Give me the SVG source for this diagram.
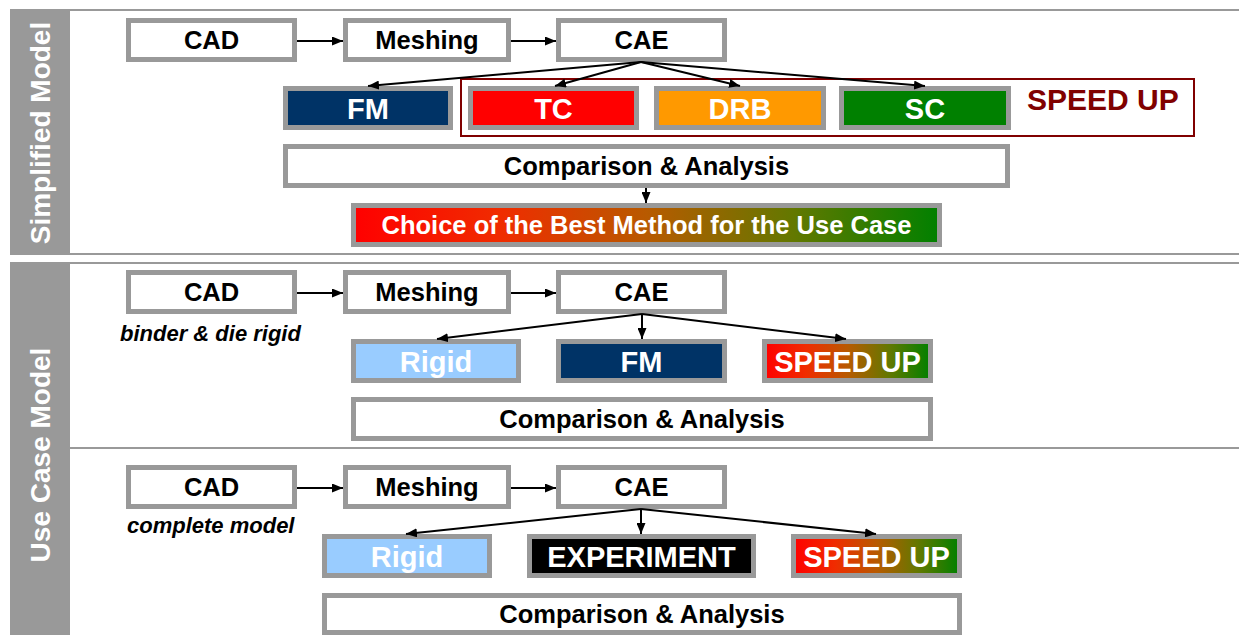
<svg xmlns="http://www.w3.org/2000/svg" width="1239" height="635" viewBox="0 0 1239 635">
<style>
text{font-family:"Liberation Sans",Arial,sans-serif;font-weight:bold}
.box{stroke:#999999;stroke-width:5}
.w{fill:#ffffff}
.lbl{font-size:25.5px;fill:#000;text-anchor:middle}
.clbl{font-size:29px;fill:#fff;text-anchor:middle}
.side{font-size:28px;fill:#fff;text-anchor:middle}
.note{font-size:22px;font-style:italic;fill:#000}
.sep{stroke:#999999;stroke-width:2;fill:none}
.con{stroke:#000;stroke-width:2;fill:none;marker-end:url(#ah)}
</style>
<defs>
<marker id="ah" markerUnits="userSpaceOnUse" markerWidth="11" markerHeight="9" refX="11" refY="4.5" orient="auto">
<path d="M0,0 L11,4.5 L0,9 z" fill="#000"/>
</marker>
<linearGradient id="grad" x1="0" y1="0" x2="1" y2="0">
<stop offset="0" stop-color="#ff0000"/>
<stop offset="0.25" stop-color="#f02c00"/>
<stop offset="0.5" stop-color="#b85a00"/>
<stop offset="0.75" stop-color="#637800"/>
<stop offset="1" stop-color="#008000"/>
</linearGradient>
</defs>
<rect width="1239" height="635" fill="#ffffff"/>
<g id="frame">
<line class="sep" x1="10" y1="10" x2="1239" y2="10"/>
<line class="sep" x1="10" y1="254" x2="1239" y2="254"/>
<line class="sep" x1="10" y1="263" x2="1239" y2="263"/>
<line class="sep" x1="70" y1="448" x2="1239" y2="448"/>
</g>
<g id="side1"><rect x="10" y="11" width="60" height="242" fill="#999999"/>
<text class="side" transform="translate(50,133) rotate(-90)">Simplified Model</text></g>
<g id="side2"><rect x="10" y="264" width="60" height="371" fill="#999999"/>
<text class="side" transform="translate(50,455) rotate(-90)">Use Case Model</text></g>

<g id="s1-cad"><rect class="box w" x="128.5" y="20.5" width="166" height="39"/><text class="lbl" x="211.5" y="49">CAD</text></g>
<g id="s1-mesh"><rect class="box w" x="345.5" y="20.5" width="163" height="39"/><text class="lbl" x="427" y="49">Meshing</text></g>
<g id="s1-cae"><rect class="box w" x="558.5" y="20.5" width="166" height="39"/><text class="lbl" x="641.5" y="49">CAE</text></g>
<g id="s1-speedup-frame"><rect x="461" y="79" width="733" height="57" fill="none" stroke="#800000" stroke-width="2"/><text x="1027" y="110" font-size="30" fill="#800000">SPEED UP</text></g>
<g id="s1-fm"><rect class="box" fill="#003366" x="285.5" y="88.5" width="165" height="39"/><text class="clbl" x="368" y="118.5">FM</text></g>
<g id="s1-tc"><rect class="box" fill="#ff0000" x="470.5" y="88.5" width="166" height="39"/><text class="clbl" x="553.5" y="118.5">TC</text></g>
<g id="s1-drb"><rect class="box" fill="#ff9900" x="656.5" y="88.5" width="167" height="39"/><text class="clbl" x="740" y="118.5">DRB</text></g>
<g id="s1-sc"><rect class="box" fill="#008000" x="841.5" y="88.5" width="167" height="39"/><text class="clbl" x="925" y="118.5">SC</text></g>
<g id="s1-comp"><rect class="box w" x="285.5" y="146.5" width="722" height="39"/><text class="lbl" x="646.5" y="175">Comparison &amp; Analysis</text></g>
<g id="s1-choice"><rect class="box" fill="url(#grad)" x="353.5" y="205.5" width="586" height="39"/><text class="lbl" style="fill:#fff" x="646.5" y="234">Choice of the Best Method for the Use Case</text></g>

<g id="s2-cad"><rect class="box w" x="128.5" y="272.5" width="166" height="39"/><text class="lbl" x="211.5" y="301">CAD</text></g>
<g id="s2-note"><text class="note" x="120" y="341">binder &amp; die rigid</text></g>
<g id="s2-mesh"><rect class="box w" x="345.5" y="272.5" width="163" height="39"/><text class="lbl" x="427" y="301">Meshing</text></g>
<g id="s2-cae"><rect class="box w" x="558.5" y="272.5" width="166" height="39"/><text class="lbl" x="641.5" y="301">CAE</text></g>
<g id="s2-rigid"><rect class="box" fill="#99ccff" x="353.5" y="341.5" width="165" height="39"/><text class="clbl" x="436" y="371.5">Rigid</text></g>
<g id="s2-fm"><rect class="box" fill="#003366" x="558.5" y="341.5" width="166" height="39"/><text class="clbl" x="641.5" y="371.5">FM</text></g>
<g id="s2-speedup"><rect class="box" fill="url(#grad)" x="764.5" y="341.5" width="166" height="39"/><text class="clbl" x="847.5" y="371.5">SPEED UP</text></g>
<g id="s2-comp"><rect class="box w" x="353.5" y="399.5" width="577" height="39"/><text class="lbl" x="642" y="428">Comparison &amp; Analysis</text></g>

<g id="s3-cad"><rect class="box w" x="128.5" y="467.5" width="166" height="39"/><text class="lbl" x="211.5" y="496">CAD</text></g>
<g id="s3-note"><text class="note" x="127" y="533">complete model</text></g>
<g id="s3-mesh"><rect class="box w" x="345.5" y="467.5" width="163" height="39"/><text class="lbl" x="427" y="496">Meshing</text></g>
<g id="s3-cae"><rect class="box w" x="558.5" y="467.5" width="166" height="39"/><text class="lbl" x="641.5" y="496">CAE</text></g>
<g id="s3-rigid"><rect class="box" fill="#99ccff" x="324.5" y="536.5" width="165" height="39"/><text class="clbl" x="407" y="566.5">Rigid</text></g>
<g id="s3-exp"><rect class="box" fill="#000000" x="529.5" y="536.5" width="224" height="39"/><text class="clbl" x="641.5" y="566.5">EXPERIMENT</text></g>
<g id="s3-speedup"><rect class="box" fill="url(#grad)" x="793.5" y="536.5" width="166" height="39"/><text class="clbl" x="876.5" y="566.5">SPEED UP</text></g>
<g id="s3-comp"><rect class="box w" x="324.5" y="595.5" width="635" height="37"/><text class="lbl" x="642" y="623">Comparison &amp; Analysis</text></g>

<g id="connectors">
<line class="con" x1="297" y1="41" x2="343" y2="41"/>
<line class="con" x1="511" y1="41" x2="556" y2="41"/>
<line class="con" x1="641" y1="62" x2="368" y2="86"/>
<line class="con" x1="641" y1="62" x2="555" y2="86"/>
<line class="con" x1="641" y1="62" x2="740" y2="86"/>
<line class="con" x1="641" y1="62" x2="925" y2="86"/>
<line class="con" x1="646" y1="188" x2="646" y2="203"/>
<line class="con" x1="297" y1="293" x2="343" y2="293"/>
<line class="con" x1="511" y1="293" x2="556" y2="293"/>
<line class="con" x1="642" y1="314" x2="437" y2="339"/>
<line class="con" x1="642" y1="314" x2="642" y2="339"/>
<line class="con" x1="642" y1="314" x2="846" y2="339"/>
<line class="con" x1="297" y1="488" x2="343" y2="488"/>
<line class="con" x1="511" y1="488" x2="556" y2="488"/>
<line class="con" x1="641" y1="509" x2="406" y2="534"/>
<line class="con" x1="641" y1="509" x2="641" y2="534"/>
<line class="con" x1="641" y1="509" x2="876" y2="534"/>
</g>
</svg>
